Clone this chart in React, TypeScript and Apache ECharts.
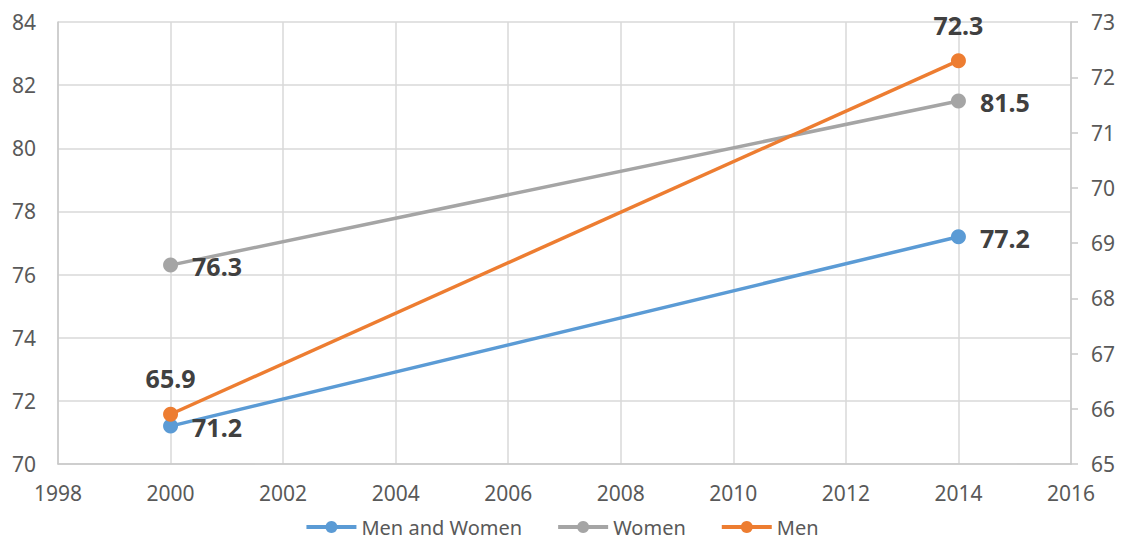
import React, { useEffect, useRef } from "react";
import * as echarts from "echarts";

const years = [2000, 2014];
const menAndWomen = [71.2, 77.2];
const women = [76.3, 81.5];
const men = [65.9, 72.3];
const seriesNames = ["Men and Women", "Women", "Men"];
const colors = ["#5B9BD5", "#A5A5A5", "#ED7D31"];

const FONT = "'Noto Sans', 'Open Sans', sans-serif";

export default function App() {
  const ref = useRef<HTMLDivElement>(null);
  useEffect(() => {
    const chart = echarts.init(ref.current!, null, { renderer: "svg" });
    const labelStyle = {
      show: true,
      fontFamily: FONT,
      fontWeight: "bold" as const,
      fontSize: 25,
      color: "#404040",
    };
    const mk = (name: string, vals: number[], color: string, yAxisIndex: number, pos: string, dist: number) => ({
      name,
      type: "line",
      yAxisIndex,
      data: years.map((y, i) => [y, vals[i]]),
      symbol: "circle",
      symbolSize: 15,
      lineStyle: { color, width: 3.5 },
      itemStyle: { color },
      label: { ...labelStyle, position: pos, distance: dist, offset: pos === "right" ? [0, 1] : [0, 0] },
    });
    chart.setOption({
      animation: false,
      color: colors,
      grid: { left: 58, right: 52, top: 22, bottom: 79, containLabel: false },
      legend: {
        bottom: 1,
        left: "center",
        itemWidth: 50,
        itemHeight: 15,
        itemGap: 34,
        textStyle: { fontFamily: FONT, fontSize: 20, color: "#595959" },
        data: seriesNames.map((n, i) => ({
          name: n,
          itemStyle: { color: colors[i] },
          lineStyle: { color: colors[i], width: 4 },
        })),
      },
      xAxis: {
        type: "value",
        min: 1998,
        max: 2016,
        interval: 2,
        axisLine: { show: true, lineStyle: { color: "#C8C8C8", width: 1.5 } },
        axisTick: { show: false },
        splitLine: { show: true, lineStyle: { color: "#D9D9D9", width: 1.5 } },
        axisLabel: { fontFamily: FONT, fontSize: 21, color: "#595959", margin: 18, formatter: (v: number) => String(v) },
      },
      yAxis: [
        {
          type: "value",
          min: 70,
          max: 84,
          interval: 2,
          axisLine: { show: true, lineStyle: { color: "#C8C8C8", width: 1.5 } },
          axisTick: { show: false },
          splitLine: { show: true, lineStyle: { color: "#D9D9D9", width: 1.5 } },
          axisLabel: { fontFamily: FONT, fontSize: 21, color: "#595959", margin: 22 },
        },
        {
          type: "value",
          min: 65,
          max: 73,
          interval: 1,
          position: "right",
          axisLine: { show: true, lineStyle: { color: "#C8C8C8", width: 1.5 } },
          axisTick: { show: true, length: 7, lineStyle: { color: "#C8C8C8", width: 1.5 } },
          splitLine: { show: false },
          axisLabel: { fontFamily: FONT, fontSize: 21, color: "#595959", margin: 20 },
        },
      ],
      series: [
        mk(seriesNames[0], menAndWomen, colors[0], 0, "right", 14),
        mk(seriesNames[1], women, colors[1], 0, "right", 14),
        mk(seriesNames[2], men, colors[2], 1, "top", 16),
      ],
    });
    return () => chart.dispose();
  }, []);
  return <div ref={ref} style={{ width: 1123, height: 543, margin: -8 }} />;
}
